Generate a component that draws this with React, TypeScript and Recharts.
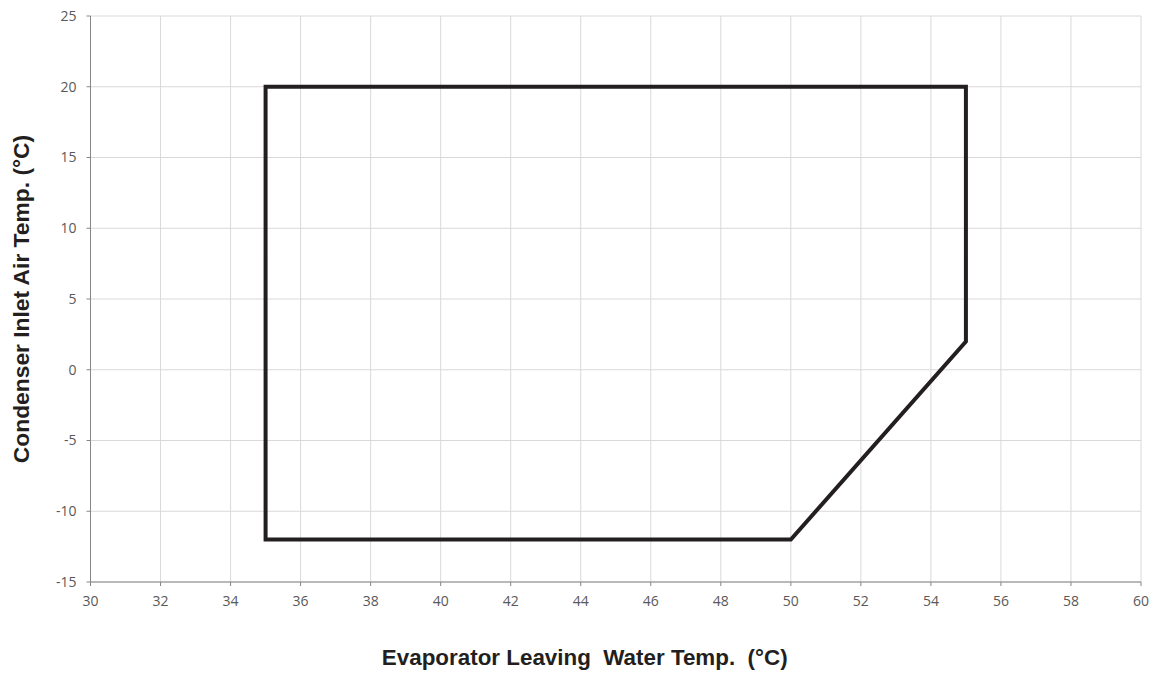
import React from 'react';
import { LineChart, Line, XAxis, YAxis, CartesianGrid, Label } from 'recharts';

const evapTemps = [35, 35, 55, 55, 50, 35];
const airTemps = [-12, 20, 20, 2, -12, -12];
const xTicks = [30, 32, 34, 36, 38, 40, 42, 44, 46, 48, 50, 52, 54, 56, 58, 60];
const yTicks = [-15, -10, -5, 0, 5, 10, 15, 20, 25];
const xTitle = 'Evaporator Leaving  Water Temp.  (°C)';
const yTitle = 'Condenser Inlet Air Temp. (°C)';

const data = evapTemps.map((x, i) => ({ x, y: airTemps[i] }));

const tickStyle = { fontFamily: '"Open Sans", sans-serif', fontSize: 14, fill: '#595959' };
const titleFont = '"Liberation Sans", Arial, sans-serif';

const XTitle = (props: any) => {
  const vb = props.viewBox || {};
  return (
    <text
      x={vb.x + vb.width / 2 - 31}
      y={657}
      textAnchor="middle"
      dominantBaseline="central"
      style={{ fontFamily: titleFont, fontWeight: 'bold', fontSize: 22.4, fill: '#231f20', whiteSpace: 'pre' }}
      xmlSpace="preserve"
    >
      {xTitle}
    </text>
  );
};

const YTitle = (props: any) => {
  const vb = props.viewBox || {};
  const cx = 21;
  const cy = vb.y + vb.height / 2;
  return (
    <text
      x={cx}
      y={cy}
      transform={`rotate(-90, ${cx}, ${cy})`}
      textAnchor="middle"
      dominantBaseline="central"
      style={{ fontFamily: titleFont, fontWeight: 'bold', fontSize: 22.8, fill: '#231f20' }}
    >
      {yTitle}
    </text>
  );
};

export default function App() {
  return (
    <div style={{ position: 'absolute', left: 0, top: 0, width: 1156, height: 673, background: '#fff' }}>
      <LineChart
        width={1156}
        height={673}
        data={data}
        margin={{ top: 16, right: 15, left: 0, bottom: 0 }}
      >
        <CartesianGrid stroke="#d9d9d9" strokeWidth={1} />
        <XAxis
          dataKey="x"
          type="number"
          domain={[30, 60]}
          ticks={xTicks}
          interval={0}
          height={91}
          tickSize={4}
          tickMargin={10}
          stroke="#868686"
          tick={tickStyle}
          allowDataOverflow
        >
          <Label content={<XTitle />} />
        </XAxis>
        <YAxis
          dataKey="y"
          type="number"
          domain={[-15, 25]}
          ticks={yTicks}
          interval={0}
          width={90.5}
          tickSize={4}
          tickMargin={10}
          stroke="#868686"
          tick={tickStyle}
          allowDataOverflow
        >
          <Label content={<YTitle />} />
        </YAxis>
        <Line
          type="linear"
          dataKey="y"
          stroke="#231f20"
          strokeWidth={4}
          strokeLinejoin="miter"
          strokeLinecap="square"
          dot={false}
          activeDot={false}
          isAnimationActive={false}
        />
      </LineChart>
    </div>
  );
}
